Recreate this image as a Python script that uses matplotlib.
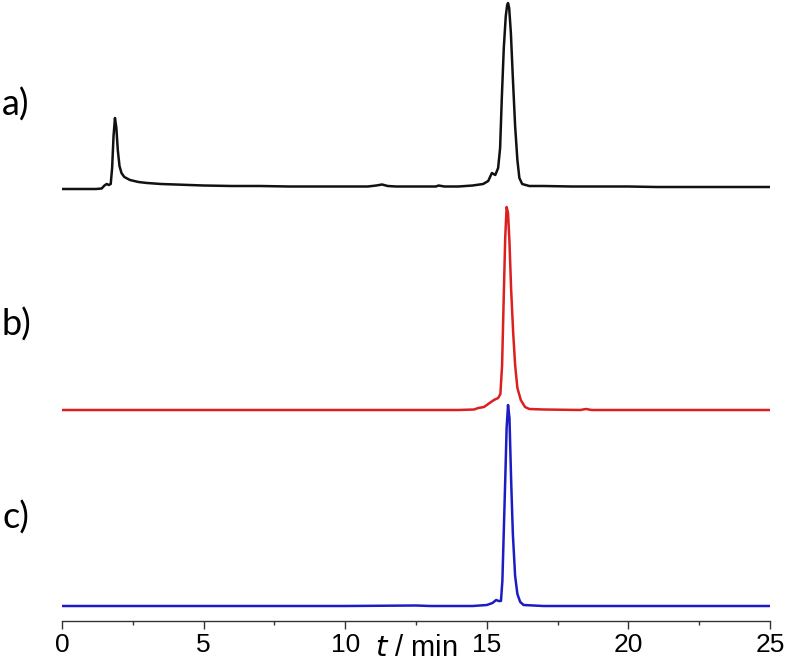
import numpy as np
import matplotlib
matplotlib.use('Agg')
from matplotlib import pyplot as plt
from matplotlib.ticker import MultipleLocator

# chromatogram traces: (time / min, signal above own baseline)
trace_a = [(0, -1), (1.2, -1), (1.4, -0.5), (1.5, 2.5), (1.58, 4), (1.65, 3), (1.72, 4),
           (1.77, 20), (1.82, 52), (1.87, 70), (1.92, 60), (1.97, 38), (2.03, 22), (2.1, 15),
           (2.2, 11), (2.4, 8), (2.7, 6), (3.0, 5), (3.5, 4), (4.0, 3.5), (4.5, 3), (5.0, 2.5),
           (6.0, 2), (7.0, 2), (8.0, 1.5), (9.0, 1.5), (10.0, 1.5), (10.8, 1.5), (11.1, 2.5),
           (11.3, 3.5), (11.5, 2), (11.8, 1.5), (12.5, 1.5), (13.2, 1.5), (13.3, 2.5), (13.5, 1.5),
           (14.0, 1.5), (14.5, 2.5), (14.87, 4), (15.05, 7), (15.18, 15), (15.3, 13), (15.4, 20),
           (15.47, 40), (15.53, 90), (15.6, 140), (15.67, 172), (15.72, 183), (15.75, 185),
           (15.79, 180), (15.85, 155), (15.92, 110), (16.0, 62), (16.08, 28), (16.15, 10),
           (16.25, 4), (16.5, 2), (17.0, 2), (18.0, 1.5), (19.0, 1.5), (20.0, 1.5), (21.0, 1),
           (22.0, 1), (23.0, 1), (24.0, 1), (25.0, 1)]

trace_b = [(0, 0), (5, 0), (10, 0), (14.0, 0), (14.55, 0.5), (14.7, 2), (14.9, 3), (15.1, 7),
           (15.25, 10), (15.4, 12), (15.48, 16), (15.54, 45), (15.6, 115), (15.65, 172),
           (15.7, 203), (15.75, 197), (15.8, 168), (15.86, 120), (15.93, 78), (16.0, 45),
           (16.08, 22), (16.2, 10), (16.35, 3), (16.5, 1), (17.0, 0.5), (18.3, 0), (18.5, 1),
           (18.7, 0), (20, 0), (25, 0)]

trace_c = [(0, 0), (2, 0), (5, 0), (10, 0), (12.5, 0.5), (13, 0), (14.5, 0), (15.0, 1),
           (15.2, 3), (15.33, 6), (15.42, 5), (15.5, 5), (15.55, 25), (15.6, 75), (15.65, 125),
           (15.7, 178), (15.75, 201), (15.8, 188), (15.86, 125), (15.92, 72), (16.0, 30),
           (16.08, 12), (16.18, 4), (16.3, 1), (17, 0), (20, 0), (25, 0)]

labels = ['a)', 'b)', 'c)']
offsets = [433, 211, 15]
colors = ['#111111', '#dc1f1f', '#1c1cc4']

tick_font = ['Liberation Sans Narrow', 'Liberation Sans', 'DejaVu Sans']

fig = plt.figure(figsize=(7.87, 6.68), dpi=100)
ax = fig.add_axes([62 / 787, 47 / 668, (770 - 62) / 787, 621 / 668])

for tr, off, col in zip([trace_a, trace_b, trace_c], offsets, colors):
    t, h = np.array(tr).T
    ax.plot(t, h + off, color=col, lw=1.8)

ax.set_xlim(0, 25)
ax.set_ylim(0, 621)
for s in ['top', 'right', 'left']:
    ax.spines[s].set_visible(False)
ax.spines['bottom'].set_color('#333333')
ax.spines['bottom'].set_linewidth(1.0)
ax.set_yticks([])
ax.xaxis.set_major_locator(MultipleLocator(5))
ax.xaxis.set_minor_locator(MultipleLocator(2.5))
ax.tick_params(axis='x', which='major', length=6, width=1, color='#333333', pad=3,
               labelsize=19)
ax.tick_params(axis='x', which='minor', length=3, width=1, color='#333333')
for lab in ax.get_xticklabels():
    lab.set_family(tick_font)

ax.set_xlabel(r'$\it{t}$ / min', fontsize=21, family=tick_font, labelpad=-17)

label_y = [105, 325, 518]
for lab, y in zip(labels, label_y):
    fig.text(2 / 787, 1 - y / 668, lab, fontsize=26, family=['Lato', 'DejaVu Sans'],
             va='center', ha='left')

fig.savefig('out.png', dpi=100)
